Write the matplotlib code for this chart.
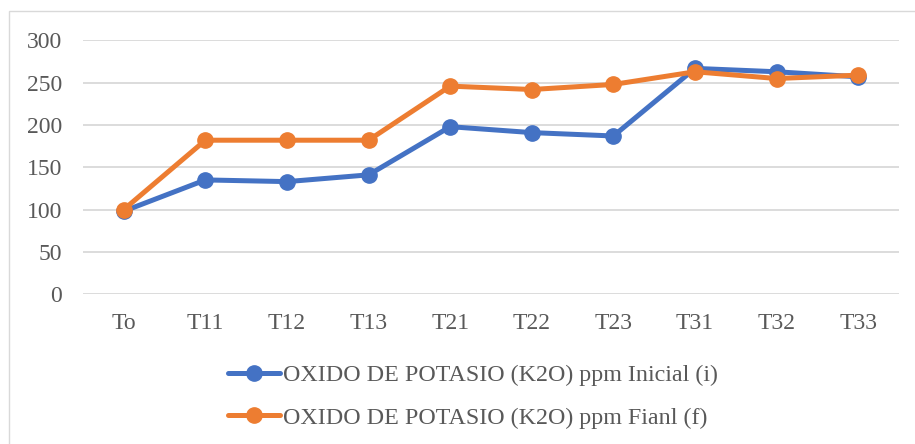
import matplotlib
matplotlib.use('Agg')
import matplotlib.pyplot as plt
from matplotlib.patches import Rectangle

# Datos de óxido de potasio por tratamiento
TRATAMIENTOS = ['To', 'T11', 'T12', 'T13', 'T21', 'T22', 'T23', 'T31', 'T32', 'T33']
K2O_INICIAL = [98, 135, 133, 141, 198, 191, 187, 267, 263, 257]
K2O_FINAL = [100, 182, 182, 182, 246, 242, 248, 263, 255, 259]
Y_TICKS = [0, 50, 100, 150, 200, 250, 300]

AZUL = '#4472C4'
NARANJA = '#ED7D31'
TEXTO = '#595959'
GRILLA = '#D9D9D9'

plt.rcParams['font.family'] = ['Liberation Serif', 'DejaVu Serif']

W, H = 915, 444
fig = plt.figure(figsize=(W / 100, H / 100), dpi=100)

# marco exterior del gráfico
fig.patches.append(Rectangle((9 / W, -0.01), 1.0, 1 - 11 / H + 0.01,
                             transform=fig.transFigure, fill=False,
                             edgecolor=GRILLA, linewidth=1.0))

ax = fig.add_axes((83 / W, 1 - 294 / H, (899 - 83) / W, (294 - 40.5) / H))
x = range(len(TRATAMIENTOS))
ax.plot(x, K2O_INICIAL, color=AZUL, linewidth=3.6, marker='o',
        markersize=11, solid_capstyle='round',
        label='OXIDO DE POTASIO (K2O) ppm Inicial (i)', zorder=3)
ax.plot(x, K2O_FINAL, color=NARANJA, linewidth=3.6, marker='o',
        markersize=11, solid_capstyle='round',
        label='OXIDO DE POTASIO (K2O) ppm Fianl (f)', zorder=4)

ax.set_xlim(-0.5, len(TRATAMIENTOS) - 0.5)
ax.set_ylim(0, 300)
ax.set_yticks(Y_TICKS)
ax.set_xticks(list(x))
ax.set_xticklabels(TRATAMIENTOS)
ax.grid(axis='y', color=GRILLA, linewidth=1.3)
ax.set_axisbelow(True)
for s in ax.spines.values():
    s.set_visible(False)
ax.tick_params(axis='both', length=0, labelsize=17, colors=TEXTO)
ax.tick_params(axis='y', pad=15)
ax.tick_params(axis='x', pad=14)

leg = fig.legend(loc='upper left', bbox_to_anchor=(218 / W, 1 - 355 / H),
                 frameon=False, fontsize=17.3, handlelength=2.2,
                 handletextpad=0.1, labelspacing=0.85, borderaxespad=0)
for t in leg.get_texts():
    t.set_color(TEXTO)

fig.savefig('out.png', dpi=100)
